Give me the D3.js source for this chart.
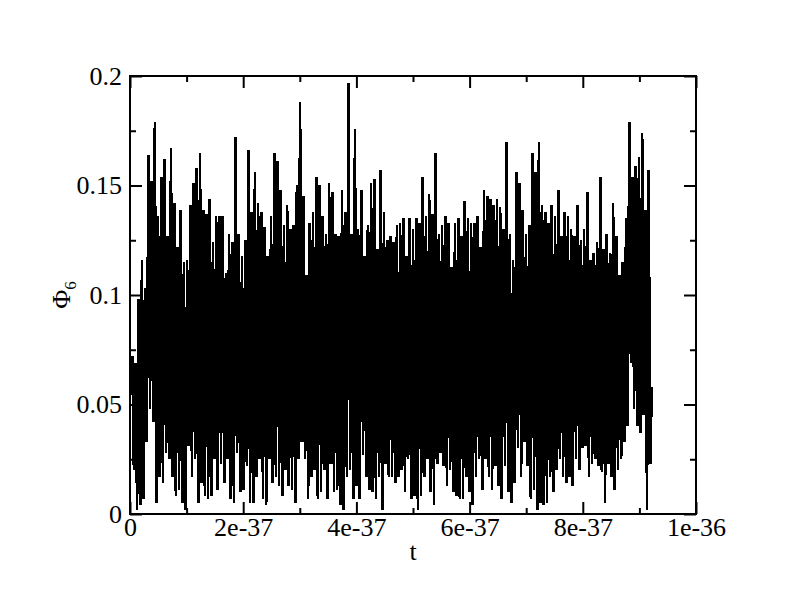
<!DOCTYPE html>
<html>
<head>
<meta charset="utf-8">
<script src="https://cdn.jsdelivr.net/npm/d3@7"></script>
<style>
  html, body { margin: 0; padding: 0; background: #fff; }
  svg { display: block; }
  text { font-family: "Liberation Serif", "Times New Roman", serif; fill: #000; }
</style>
</head>
<body>
<svg id="chart" width="792" height="605"></svg>
<script>
// ---- data ----
const xTickValues = [0, 2e-37, 4e-37, 6e-37, 8e-37, 1e-36];
const xTickLabels = ["0", "2e-37", "4e-37", "6e-37", "8e-37", "1e-36"];
const xMinorValues = [1e-37, 3e-37, 5e-37, 7e-37, 9e-37];
const yTickValues = [0, 0.05, 0.1, 0.15, 0.2];
const yTickLabels = ["0", "0.05", "0.1", "0.15", "0.2"];
const yMinorValues = [0.025, 0.075, 0.125, 0.175];
const tStart = 0.04e-37;
const tEnd = 9.22e-37;
// Phi_6 samples (alternating local maxima / minima)
const phi = [
  0.072, 0.020, 0.069, 0.002, 0.098, 0.004, 0.116, 0.007, 0.103, 0.033, 0.164, 0.048, 0.152, 0.042, 0.179, 0.005,
  0.136, 0.017, 0.154, 0.014, 0.162, 0.028, 0.127, 0.025, 0.167, 0.017, 0.142, 0.008, 0.122, 0.011, 0.139, 0.005,
  0.115, 0.002, 0.116, 0.031, 0.141, 0.017, 0.151, 0.025, 0.158, 0.005, 0.165, 0.014, 0.139, 0.008, 0.137, 0.007,
  0.144, 0.008, 0.124, 0.025, 0.136, 0.011,
  0.136, 0.023, 0.136, 0.014, 0.110, 0.025, 0.128, 0.007, 0.124, 0.005, 0.172, 0.028, 0.128, 0.010, 0.118, 0.011,
  0.125, 0.022, 0.166, 0.005, 0.138, 0.005, 0.156, 0.017, 0.142, 0.025, 0.138, 0.007, 0.131, 0.004, 0.118, 0.025,
  0.136, 0.014, 0.165, 0.017, 0.161, 0.013, 0.148, 0.008, 0.132, 0.020, 0.141, 0.013, 0.130, 0.011, 0.132, 0.005,
  0.150, 0.025, 0.188, 0.033, 0.145, 0.025,
  0.109, 0.007, 0.133, 0.017, 0.138, 0.020, 0.154, 0.007, 0.150, 0.010, 0.136, 0.020, 0.128, 0.007, 0.151, 0.023,
  0.147, 0.010, 0.128, 0.011, 0.127, 0.004, 0.148, 0.002, 0.138, 0.017, 0.197, 0.020, 0.128, 0.007, 0.176, 0.013,
  0.130, 0.007, 0.148, 0.027, 0.118, 0.017, 0.132, 0.011, 0.151, 0.010, 0.153, 0.007, 0.121, 0.017, 0.157, 0.002,
  0.138, 0.023, 0.125, 0.017, 0.127, 0.017,
  0.124, 0.014, 0.132, 0.017, 0.133, 0.020, 0.135, 0.010, 0.118, 0.025, 0.135, 0.007, 0.130, 0.008, 0.135, 0.002,
  0.133, 0.008, 0.154, 0.017, 0.136, 0.025, 0.146, 0.010, 0.137, 0.004, 0.165, 0.023, 0.128, 0.028, 0.132, 0.022,
  0.136, 0.013, 0.133, 0.020, 0.113, 0.010, 0.133, 0.008, 0.135, 0.007, 0.127, 0.007, 0.143, 0.017, 0.135, 0.010,
  0.133, 0.004, 0.133, 0.017, 0.136, 0.025,
  0.122, 0.011, 0.148, 0.025, 0.145, 0.017, 0.144, 0.011, 0.141, 0.022, 0.144, 0.013, 0.140, 0.007, 0.130, 0.022,
  0.170, 0.010, 0.128, 0.005, 0.116, 0.014, 0.156, 0.030, 0.151, 0.017, 0.139, 0.033, 0.128, 0.022, 0.132, 0.007,
  0.165, 0.011, 0.156, 0.002, 0.170, 0.005, 0.141, 0.004, 0.138, 0.005, 0.133, 0.017, 0.141, 0.010, 0.136, 0.020,
  0.148, 0.025, 0.127, 0.017, 0.138, 0.014,
  0.136, 0.017, 0.130, 0.013, 0.127, 0.025, 0.141, 0.020, 0.125, 0.030, 0.130, 0.031, 0.147, 0.017, 0.116, 0.023,
  0.119, 0.025, 0.124, 0.022, 0.154, 0.019, 0.121, 0.005, 0.128, 0.023, 0.119, 0.017, 0.142, 0.011, 0.127, 0.020,
  0.109, 0.025, 0.115, 0.033, 0.135, 0.040, 0.179, 0.069, 0.154, 0.048, 0.159, 0.040, 0.163, 0.037, 0.174, 0.045,
  0.139, 0.002, 0.157, 0.023, 0.058
];

// ---- layout ----
const W = 792, H = 605;
const m = { left: 130, right: 696, top: 76, bottom: 514 };
const FONT = 26;

const svg = d3.select("#chart");
svg.append("rect").attr("width", W).attr("height", H).attr("fill", "#fff");

const x = d3.scaleLinear().domain([0, 1e-36]).range([m.left, m.right]);
const y = d3.scaleLinear().domain([0, 0.2]).range([m.bottom, m.top]);

const step = (tEnd - tStart) / (phi.length - 1);
const pts = phi.map((v, i) => [tStart + i * step, v]);

const clipId = "plotclip";
svg.append("clipPath").attr("id", clipId).append("rect")
  .attr("x", m.left).attr("y", m.top).attr("width", m.right - m.left).attr("height", m.bottom - m.top);

const line = d3.line().x(d => x(d[0])).y(d => y(d[1]));
svg.append("path")
  .datum(pts)
  .attr("d", line)
  .attr("fill", "none")
  .attr("stroke", "#000")
  .attr("stroke-width", 2.6)
  .attr("stroke-linejoin", "bevel")
  .attr("shape-rendering", "crispEdges")
  .attr("clip-path", `url(#${clipId})`);

// axes with inward ticks (major and minor), mirrored on all sides
function addAxis(axisGen, transform) {
  const g = svg.append("g").attr("transform", transform).call(axisGen);
  g.select(".domain").remove();
  g.selectAll("line").attr("stroke", "#000").attr("stroke-width", 2);
  return g;
}
const MAJ = 12, MIN = 6;

// bottom
const gb = addAxis(d3.axisBottom(x).tickValues(xTickValues).tickSize(-MAJ).tickPadding(4)
  .tickFormat((d, i) => xTickLabels[i]), `translate(0,${m.bottom})`);
gb.selectAll("text").attr("font-size", FONT).attr("font-family", "Liberation Serif").attr("fill", "#000");
addAxis(d3.axisBottom(x).tickValues(xMinorValues).tickSize(-MIN).tickFormat(""), `translate(0,${m.bottom})`);
// top
addAxis(d3.axisTop(x).tickValues(xTickValues).tickSize(-MAJ).tickFormat(""), `translate(0,${m.top})`);
addAxis(d3.axisTop(x).tickValues(xMinorValues).tickSize(-MIN).tickFormat(""), `translate(0,${m.top})`);
// left
const gl = addAxis(d3.axisLeft(y).tickValues(yTickValues).tickSize(-MAJ).tickPadding(8)
  .tickFormat((d, i) => yTickLabels[i]), `translate(${m.left},0)`);
gl.selectAll("text").attr("font-size", FONT).attr("font-family", "Liberation Serif").attr("fill", "#000");
addAxis(d3.axisLeft(y).tickValues(yMinorValues).tickSize(-MIN).tickFormat(""), `translate(${m.left},0)`);
// right
addAxis(d3.axisRight(y).tickValues(yTickValues).tickSize(-MAJ).tickFormat(""), `translate(${m.right},0)`);
addAxis(d3.axisRight(y).tickValues(yMinorValues).tickSize(-MIN).tickFormat(""), `translate(${m.right},0)`);

// frame
svg.append("rect")
  .attr("x", m.left).attr("y", m.top)
  .attr("width", m.right - m.left).attr("height", m.bottom - m.top)
  .attr("fill", "none").attr("stroke", "#000").attr("stroke-width", 2);

// axis titles
svg.append("text")
  .attr("x", 413).attr("y", 560)
  .attr("text-anchor", "middle").attr("font-size", FONT)
  .text("t");

const yl = svg.append("text")
  .attr("transform", `translate(70,${(m.top + m.bottom) / 2}) rotate(-90)`)
  .attr("text-anchor", "middle").attr("font-size", FONT);
yl.append("tspan").text("Φ");
yl.append("tspan").attr("font-size", FONT * 0.65).attr("dy", 6).text("6");
</script>
</body>
</html>
